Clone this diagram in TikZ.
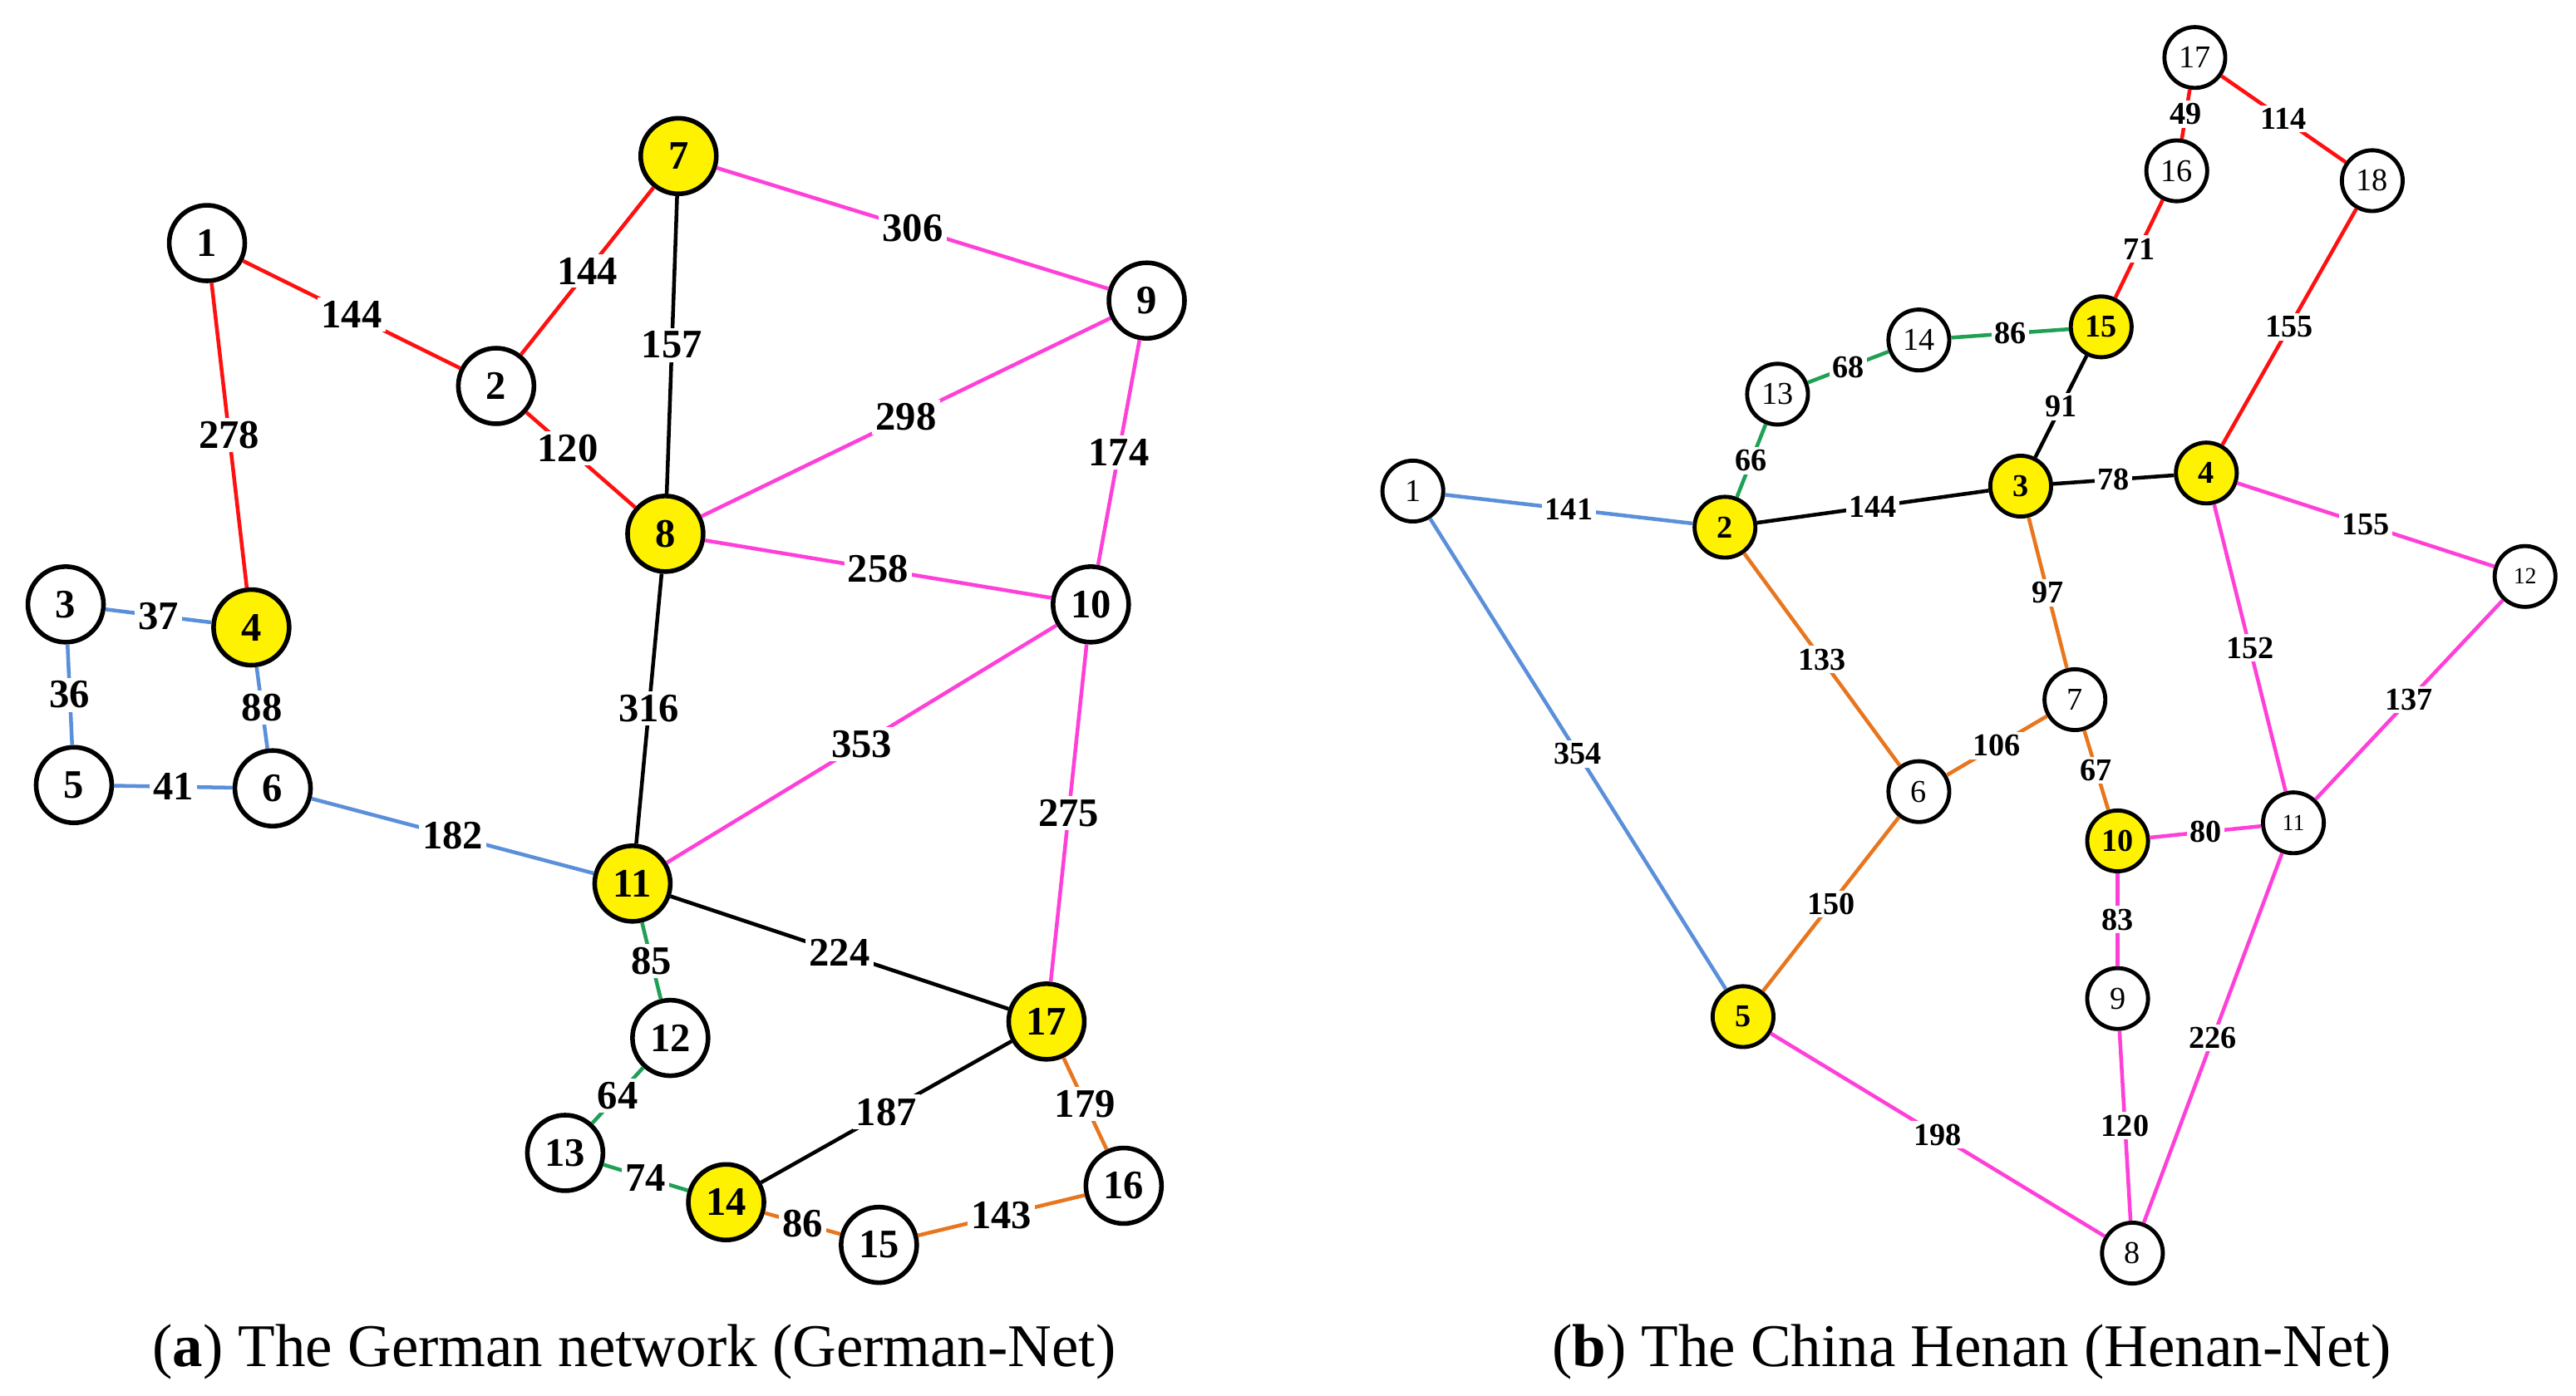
\documentclass[tikz,border=0pt]{standalone}
\usepackage{fontspec}
\setmainfont{Liberation Serif}
\begin{document}
\definecolor{cR}{HTML}{FF1010}
\definecolor{cB}{HTML}{5A8FDA}
\definecolor{cM}{HTML}{FF40D8}
\definecolor{cG}{HTML}{1FA055}
\definecolor{cO}{HTML}{E8761E}
\definecolor{cK}{HTML}{000000}
\begin{tikzpicture}[x=0.01cm,y=-0.01cm,
  big/.style={circle,draw,line width=0.8pt,minimum size=0.46cm,inner sep=0pt,font=\bfseries\fontsize{7}{8}\selectfont,fill=white},
  bigy/.style={big,fill=yellow},
  sm/.style={circle,draw,line width=0.7pt,minimum size=0.37cm,inner sep=0pt,font=\fontsize{5.5}{6}\selectfont,fill=white},
  smy/.style={sm,fill=yellow,font=\bfseries\fontsize{5.5}{6}\selectfont},
  e/.style={line width=0.65pt},
  lb/.style={fill=white,inner sep=0.6pt,font=\bfseries\fontsize{7}{8}\selectfont},
  ls/.style={fill=white,inner sep=0.5pt,font=\bfseries\fontsize{5.5}{6}\selectfont}]
\useasboundingbox (0,0) rectangle (1568,850);
% left graph nodes
\node[big] (a1) at (126,148) {1};
\node[big] (a2) at (302,235) {2};
\node[bigy] (a7) at (413,95) {7};
\node[big] (a9) at (698,183) {9};
\node[bigy] (a4) at (153,382) {4};
\node[big] (a3) at (40,368) {3};
\node[big] (a5) at (45,478) {5};
\node[big] (a6) at (166,480) {6};
\node[bigy] (a8) at (405,325) {8};
\node[big] (a10) at (664,368) {10};
\node[bigy] (a11) at (385,538) {11};
\node[bigy] (a17) at (637,622) {17};
\node[big] (a12) at (408,632) {12};
\node[big] (a13) at (344,702) {13};
\node[bigy] (a14) at (442,732) {14};
\node[big] (a15) at (535,758) {15};
\node[big] (a16) at (684,722) {16};
\begin{scope}[on background layer/.style={}]
\end{scope}
% left edges
\foreach \u/\v/\c/\l/\p in {a1/a2/cR/144/0.5, a1/a4/cR/278/0.5, a2/a7/cR/144/0.5, a2/a8/cR/120/0.38,
  a7/a8/cK/157/0.5, a7/a9/cM/306/0.5, a9/a8/cM/298/0.5, a9/a10/cM/174/0.5, a8/a10/cM/258/0.5,
  a8/a11/cK/316/0.5, a10/a11/cM/353/0.5, a10/a17/cM/275/0.5, a3/a4/cB/37/0.5, a3/a5/cB/36/0.5,
  a4/a6/cB/88/0.5, a5/a6/cB/41/0.5, a6/a11/cB/182/0.5, a11/a17/cK/224/0.5, a11/a12/cG/85/0.5,
  a12/a13/cG/64/0.5, a13/a14/cG/74/0.5, a14/a17/cK/187/0.5, a14/a15/cO/86/0.5, a15/a16/cO/143/0.5, a17/a16/cO/179/0.5}
  \draw[e,\c] (\u) -- node[lb,pos=\p,text=black] {\l} (\v);
% right graph nodes
\node[sm] (b17) at (1336,35) {17};
\node[sm] (b18) at (1444,110) {18};
\node[sm] (b16) at (1325,104) {16};
\node[smy] (b15) at (1279,199) {15};
\node[sm] (b14) at (1168,207) {14};
\node[sm] (b13) at (1082,240) {13};
\node[sm] (b1) at (860,299) {1};
\node[smy] (b2) at (1050,321) {2};
\node[smy] (b3) at (1230,296) {3};
\node[smy] (b4) at (1343,288) {4};
\node[sm,font=\fontsize{4}{5}\selectfont] (b12) at (1537,351) {12};
\node[sm] (b7) at (1263,426) {7};
\node[sm] (b6) at (1168,482) {6};
\node[smy] (b10) at (1289,512) {10};
\node[sm,font=\fontsize{4}{5}\selectfont] (b11) at (1396,501) {11};
\node[sm] (b9) at (1289,608) {9};
\node[smy] (b5) at (1061,619) {5};
\node[sm] (b8) at (1298,763) {8};
\foreach \u/\v/\c/\l/\p in {b17/b18/cR/114/0.5, b17/b16/cR/49/0.5, b16/b15/cR/71/0.5, b18/b4/cR/155/0.5,
  b15/b14/cG/86/0.5, b14/b13/cG/68/0.5, b13/b2/cG/66/0.5, b15/b3/cK/91/0.5, b2/b3/cK/144/0.5,
  b3/b4/cK/78/0.5, b1/b2/cB/141/0.5, b1/b5/cB/354/0.5, b2/b6/cO/133/0.5, b3/b7/cO/97/0.5,
  b7/b6/cO/106/0.5, b7/b10/cO/67/0.5, b6/b5/cO/150/0.5, b4/b12/cM/155/0.5, b4/b11/cM/152/0.5,
  b12/b11/cM/137/0.5, b10/b11/cM/80/0.5, b10/b9/cM/83/0.5, b9/b8/cM/120/0.5, b11/b8/cM/226/0.5, b5/b8/cM/198/0.5}
  \draw[e,\c] (\u) -- node[ls,pos=\p,text=black] {\l} (\v);
\node[font=\fontsize{10.5}{12}\selectfont] (ca) at (386,823) {(\textbf{a}) The German network (German-Net)};
\node[font=\fontsize{10.5}{12}\selectfont] (cb) at (1200,823) {(\textbf{b}) The China Henan (Henan-Net)};
\end{tikzpicture}
\end{document}
